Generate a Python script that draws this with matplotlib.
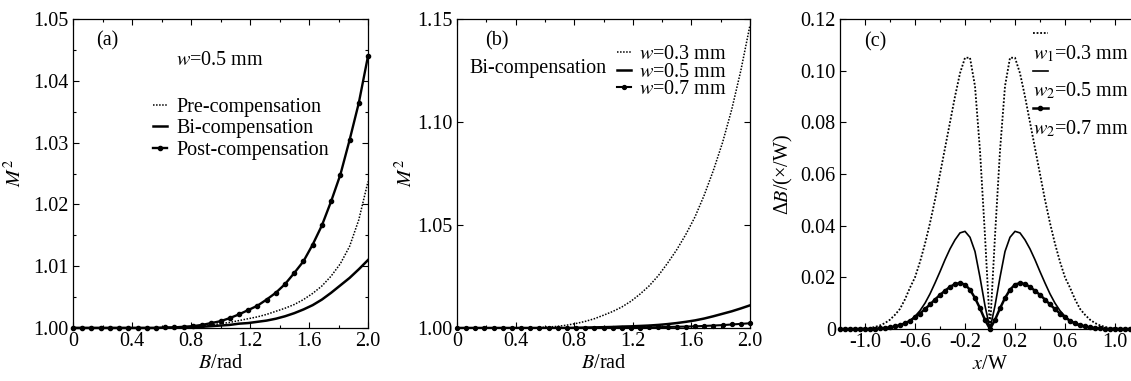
import matplotlib

matplotlib.use("Agg")
import matplotlib.pyplot as plt
import numpy as np
from matplotlib.legend_handler import HandlerLine2D
from matplotlib.lines import Line2D
from matplotlib.ticker import FixedFormatter, FixedLocator, MultipleLocator

plt.rcParams["font.family"] = ["Liberation Serif", "DejaVu Serif"]
plt.rcParams["mathtext.fontset"] = "stix"
plt.rcParams["font.size"] = 14.5

# ---- panel (a) and (b): M^2 versus B (rad), sampled every 1/16 rad ----
b_rad = np.linspace(0.0, 2.0, 33)

m2_pre = [1.0000] * 12 + [
    1.0001, 1.0002, 1.0003, 1.0005, 1.0007, 1.0009, 1.0012, 1.0015, 1.0018, 1.0022,
    1.0027, 1.0032, 1.0038, 1.0046, 1.0056, 1.0068, 1.0084, 1.0104, 1.0132, 1.0175,
    1.0237,
]
m2_bi = [1.0000] * 13 + [
    1.0001, 1.0002, 1.0003, 1.0004, 1.0005, 1.0007, 1.0008, 1.0010, 1.0012, 1.0015,
    1.0019, 1.0024, 1.0030, 1.0037, 1.0046, 1.0057, 1.0069, 1.0081, 1.0095, 1.0110,
]
m2_post = [1.0000] * 10 + [
    1.0001, 1.0001, 1.0002, 1.0003, 1.0005, 1.0008, 1.0011, 1.0016, 1.0022, 1.0029,
    1.0036, 1.0046, 1.0057, 1.0071, 1.0089, 1.0108, 1.0135, 1.0166, 1.0205, 1.0248,
    1.0304, 1.0364, 1.0440,
]

m2_w03 = [1.0000] * 9 + [
    1.0002, 1.0005, 1.0008, 1.0014, 1.0022, 1.0032, 1.0045, 1.0062, 1.0080, 1.0102,
    1.0130, 1.0165, 1.0205, 1.0255, 1.0315, 1.0380, 1.0455, 1.0540, 1.0645, 1.0765,
    1.0900, 1.1060, 1.1250, 1.1470,
]
m2_w05 = m2_bi
m2_w07 = [1.0000] * 17 + [
    1.0001, 1.0001, 1.0002, 1.0002, 1.0003, 1.0004, 1.0005, 1.0006, 1.0007, 1.0008,
    1.0010, 1.0012, 1.0014, 1.0017, 1.0020, 1.0023,
]

# ---- panel (c): delta B across the aperture, sampled every 0.04 ----
x_w = np.linspace(-1.2, 1.2, 61)

db_w1 = [
    0, 0, 0, 0, 0.0001, 0.0002, 0.0004, 0.0008, 0.0014, 0.0023, 0.0036, 0.0055,
    0.0078, 0.0115, 0.016, 0.020, 0.026, 0.033, 0.041, 0.050, 0.060, 0.070, 0.080,
    0.090, 0.099, 0.105, 0.105, 0.094, 0.069, 0.036,
    0.000,
    0.036, 0.069, 0.094, 0.105, 0.105, 0.099, 0.090, 0.080, 0.070, 0.060, 0.050,
    0.041, 0.033, 0.026, 0.020, 0.016, 0.0115, 0.0078, 0.0055, 0.0036, 0.0023,
    0.0014, 0.0008, 0.0004, 0.0002, 0.0001, 0, 0, 0, 0,
]
db_w2 = [
    0, 0, 0, 0, 0, 0, 0, 0, 0.0001, 0.0002, 0.0004, 0.0007, 0.0012, 0.0020, 0.0032,
    0.0049, 0.0071, 0.0100, 0.0136, 0.0178, 0.0222, 0.0268, 0.0310, 0.0345, 0.0372,
    0.0378, 0.0355, 0.030, 0.020, 0.009,
    0.000,
    0.009, 0.020, 0.030, 0.0355, 0.0378, 0.0372, 0.0345, 0.0310, 0.0268, 0.0222,
    0.0178, 0.0136, 0.0100, 0.0071, 0.0049, 0.0032, 0.0020, 0.0012, 0.0007, 0.0004,
    0.0002, 0.0001, 0, 0, 0, 0, 0, 0, 0, 0,
]
db_w3 = [
    0, 0, 0, 0, 0, 0, 0, 0.0001, 0.0002, 0.0004, 0.0006, 0.0010, 0.0015, 0.0022,
    0.0032, 0.0045, 0.0060, 0.0077, 0.0095, 0.0114, 0.0132, 0.0148, 0.0163, 0.0174,
    0.0178, 0.0172, 0.0152, 0.0120, 0.0080, 0.0035,
    0.000,
    0.0035, 0.0080, 0.0120, 0.0152, 0.0172, 0.0178, 0.0174, 0.0163, 0.0148, 0.0132,
    0.0114, 0.0095, 0.0077, 0.0060, 0.0045, 0.0032, 0.0022, 0.0015, 0.0010, 0.0006,
    0.0004, 0.0002, 0.0001, 0, 0, 0, 0, 0, 0, 0,
]

b_ticks = [0, 0.4, 0.8, 1.2, 1.6, 2.0]
b_ticklabels = ["0", "0.4", "0.8", "1.2", "1.6", "2.0"]
a_yticks = [1.00, 1.01, 1.02, 1.03, 1.04, 1.05]
a_yticklabels = ["1.00", "1.01", "1.02", "1.03", "1.04", "1.05"]
b_yticks = [1.00, 1.05, 1.10, 1.15]
b_yticklabels = ["1.00", "1.05", "1.10", "1.15"]
c_xticks = [-1.0, -0.6, -0.2, 0.2, 0.6, 1.0]
c_xticklabels = ["-1.0", "-0.6", "-0.2", "0.2", "0.6", "1.0"]
c_yticks = [0, 0.02, 0.04, 0.06, 0.08, 0.10, 0.12]
c_yticklabels = ["0", "0.02", "0.04", "0.06", "0.08", "0.10", "0.12"]

DOT = (0, (1, 1))


class RaisedLineHandler(HandlerLine2D):
    """Legend handle drawn one line above its label (panel c)."""

    def create_artists(self, legend, orig_handle, xdescent, ydescent, width, height, fontsize, trans):
        artists = super().create_artists(
            legend, orig_handle, xdescent, ydescent, width, height, fontsize, trans
        )
        for artist in artists:
            artist.set_ydata(np.asarray(artist.get_ydata()) + 0.95 * fontsize)
        return artists


def style_axes(ax, xticks, xlabels, yticks, ylabels):
    ax.xaxis.set_major_locator(FixedLocator(xticks))
    ax.xaxis.set_major_formatter(FixedFormatter(xlabels))
    ax.yaxis.set_major_locator(FixedLocator(yticks))
    ax.yaxis.set_major_formatter(FixedFormatter(ylabels))
    ax.tick_params(which="both", direction="in", top=True, right=True, width=0.8)
    ax.tick_params(which="major", length=4, pad=3)
    ax.tick_params(which="minor", length=2.5)
    for spine in ax.spines.values():
        spine.set_linewidth(0.9)


W, H = 1131, 381
fig = plt.figure(figsize=(W / 100, H / 100), dpi=100)

# (a)
ax_a = fig.add_axes([73 / W, 53 / H, 295 / W, 309 / H])
ax_a.plot(b_rad, m2_pre, color="black", lw=1.1, ls=DOT, label="Pre-compensation")
ax_a.plot(b_rad, m2_bi, color="black", lw=1.8, label="Bi-compensation")
ax_a.plot(b_rad, m2_post, color="black", lw=1.7, marker="o", ms=3.0,
          clip_on=False, label="Post-compensation")
ax_a.set_xlim(0, 2.0)
ax_a.set_ylim(1.0, 1.05)
style_axes(ax_a, b_ticks, b_ticklabels, a_yticks, a_yticklabels)
ax_a.xaxis.set_minor_locator(MultipleLocator(0.2))
ax_a.yaxis.set_minor_locator(MultipleLocator(0.005))
ax_a.set_xlabel("$B$/rad", labelpad=2)
ax_a.set_ylabel("$M^2$", labelpad=5)
ax_a.text(0.115, 0.93, "(a)", transform=ax_a.transAxes, va="center", ha="center")
ax_a.text(0.35, 0.865, "$w$=0.5 mm", transform=ax_a.transAxes, va="center")
ax_a.legend(loc="upper left", bbox_to_anchor=(0.27, 0.745), frameon=False,
            handlelength=0.7, handletextpad=0.5, labelspacing=0.12,
            borderpad=0, borderaxespad=0, numpoints=1)

# (b)
ax_b = fig.add_axes([457 / W, 53 / H, 293 / W, 309 / H])
ax_b.plot(b_rad, m2_w03, color="black", lw=1.1, ls=DOT, label="$w$=0.3 mm")
ax_b.plot(b_rad, m2_w05, color="black", lw=1.8, label="$w$=0.5 mm")
ax_b.plot(b_rad, m2_w07, color="black", lw=1.5, marker="o", ms=2.8,
          clip_on=False, label="$w$=0.7 mm")
ax_b.set_xlim(0, 2.0)
ax_b.set_ylim(1.0, 1.15)
style_axes(ax_b, b_ticks, b_ticklabels, b_yticks, b_yticklabels)
ax_b.xaxis.set_minor_locator(MultipleLocator(0.2))
ax_b.set_xlabel("$B$/rad", labelpad=2)
ax_b.set_ylabel("$M^2$", labelpad=0)
ax_b.text(0.135, 0.93, "(b)", transform=ax_b.transAxes, va="center", ha="center")
ax_b.text(0.044, 0.84, "Bi-compensation", transform=ax_b.transAxes, va="center")
ax_b.legend(loc="upper left", bbox_to_anchor=(0.545, 0.915), frameon=False,
            handlelength=0.7, handletextpad=0.4, labelspacing=-0.08,
            borderpad=0, borderaxespad=0, numpoints=1)

# (c) - right part of this panel runs off the figure edge as in the source
ax_c = fig.add_axes([840 / W, 52 / H, 300 / W, 310 / H])
ax_c.plot(x_w, db_w1, color="black", lw=1.3, ls=DOT, label="$w_1$=0.3 mm")
ax_c.plot(x_w, db_w2, color="black", lw=1.2, label="$w_2$=0.5 mm")
ax_c.plot(x_w, db_w3, color="black", lw=1.8, marker="o", ms=3.0,
          clip_on=False, label="$w_2$=0.7 mm")
ax_c.set_xlim(-1.2, 1.2)
ax_c.set_ylim(0, 0.12)
style_axes(ax_c, c_xticks, c_xticklabels, c_yticks, c_yticklabels)
ax_c.xaxis.set_minor_locator(MultipleLocator(0.2))
ax_c.set_xlabel("$x$/W", labelpad=2)
ax_c.set_ylabel("Δ$B$/(×/W)", labelpad=4)
ax_c.text(0.117, 0.927, "(c)", transform=ax_c.transAxes, va="center", ha="center")
ax_c.legend(loc="upper left", bbox_to_anchor=(0.643, 0.92), frameon=False,
            handlelength=0.75, handletextpad=-0.75, labelspacing=0.82,
            borderpad=0, borderaxespad=0, numpoints=1,
            handler_map={Line2D: RaisedLineHandler()})

fig.savefig("out.png", dpi=100)
